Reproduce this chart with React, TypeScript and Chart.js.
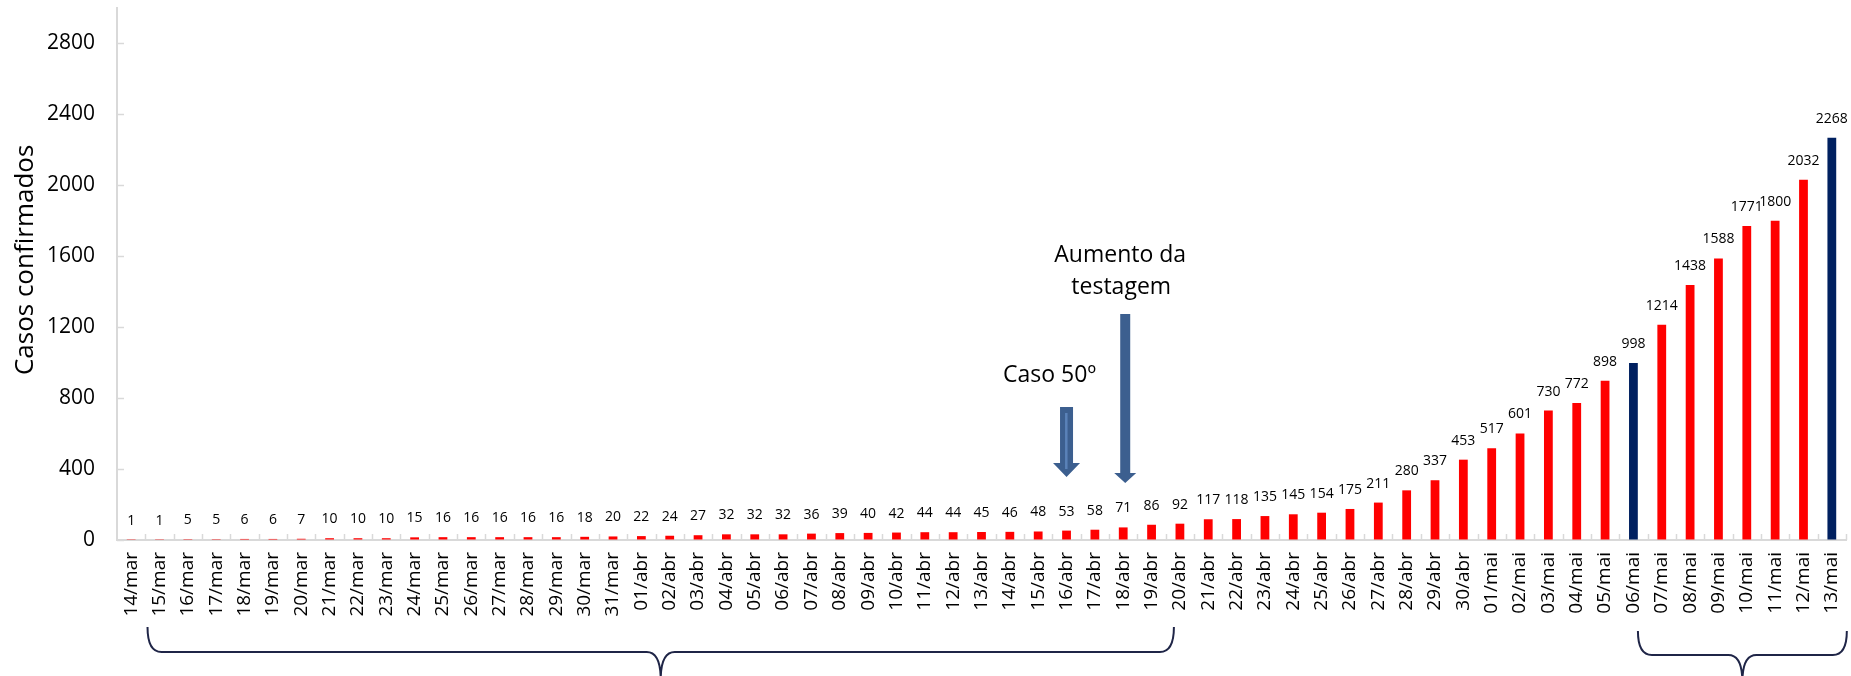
import { useEffect, useRef } from "react";
import { Chart, registerables } from "chart.js";

Chart.register(...registerables);

const FONT = "'Open Sans', sans-serif";

const categories = [
  "14/mar", "15/mar", "16/mar", "17/mar", "18/mar", "19/mar", "20/mar", "21/mar", "22/mar", "23/mar",
  "24/mar", "25/mar", "26/mar", "27/mar", "28/mar", "29/mar", "30/mar", "31/mar",
  "01/abr", "02/abr", "03/abr", "04/abr", "05/abr", "06/abr", "07/abr", "08/abr", "09/abr", "10/abr",
  "11/abr", "12/abr", "13/abr", "14/abr", "15/abr", "16/abr", "17/abr", "18/abr", "19/abr", "20/abr",
  "21/abr", "22/abr", "23/abr", "24/abr", "25/abr", "26/abr", "27/abr", "28/abr", "29/abr", "30/abr",
  "01/mai", "02/mai", "03/mai", "04/mai", "05/mai", "06/mai", "07/mai", "08/mai", "09/mai", "10/mai",
  "11/mai", "12/mai", "13/mai",
];

const cases = [
  1, 1, 5, 5, 6, 6, 7, 10, 10, 10,
  15, 16, 16, 16, 16, 16, 18, 20,
  22, 24, 27, 32, 32, 32, 36, 39, 40, 42,
  44, 44, 45, 46, 48, 53, 58, 71, 86, 92,
  117, 118, 135, 145, 154, 175, 211, 280, 337, 453,
  517, 601, 730, 772, 898, 998, 1214, 1438, 1588, 1771,
  1800, 2032, 2268,
];

const highlightedDates = ["06/mai", "13/mai"];
const yTickValues = [0, 400, 800, 1200, 1600, 2000, 2400, 2800];
const yMax = 3000;
const yTitle = "Casos confirmados";

// arrows: anchored on a category, vertical extent in data values
const arrowCategories = ["16/abr", "18/abr"];
const arrowTopValues = [750, 1275];
const arrowHeadValues = [434, 378];
const arrowTipValues = [355, 321];

// annotation texts
const noteTexts = ["Caso 50º", "Aumento da", "testagem"];
const noteCategories = ["16/abr", "18/abr", "18/abr"];
const noteValues = [890, 1568, 1387];

// braces (from category to category)
const braceStarts = ["15/mar", "06/mai"];
const braceEnds = ["20/abr", "13/mai"];

const RED = "#FF0000";
const NAVY = "#002060";
const AXIS = "#D9D9D9";
const ARROW = "#3C5F8F";
const BRACE = "#1F2547";

function drawArrow(ctx: CanvasRenderingContext2D, cx: number, top: number, head: number, tip: number, shaftW: number, headW: number) {
  ctx.beginPath();
  ctx.moveTo(cx - shaftW / 2, top);
  ctx.lineTo(cx + shaftW / 2, top);
  ctx.lineTo(cx + shaftW / 2, head);
  ctx.lineTo(cx + headW / 2, head);
  ctx.lineTo(cx, tip);
  ctx.lineTo(cx - headW / 2, head);
  ctx.lineTo(cx - shaftW / 2, head);
  ctx.closePath();
  ctx.fill();
}

function drawBrace(ctx: CanvasRenderingContext2D, x1: number, x2: number, yTop: number, yMid: number, yCusp: number) {
  const xc = (x1 + x2) / 2;
  const r = 14;
  ctx.beginPath();
  ctx.moveTo(x1, yTop);
  ctx.quadraticCurveTo(x1, yMid, x1 + r, yMid);
  ctx.lineTo(xc - r, yMid);
  ctx.quadraticCurveTo(xc, yMid, xc, yCusp);
  ctx.quadraticCurveTo(xc, yMid, xc + r, yMid);
  ctx.lineTo(x2 - r, yMid);
  ctx.quadraticCurveTo(x2, yMid, x2, yTop);
  ctx.stroke();
}

const decorPlugin = {
  id: "decor",
  afterDatasetsDraw(chart: any) {
    const ctx: CanvasRenderingContext2D = chart.ctx;
    const xs = chart.scales.x;
    const ys = chart.scales.y;
    const meta = chart.getDatasetMeta(0);
    const n = categories.length;
    const catW = (xs.right - xs.left) / n;
    const cx = (c: string) => xs.getPixelForValue(categories.indexOf(c));

    ctx.save();
    // inside tick marks
    ctx.strokeStyle = AXIS;
    ctx.lineWidth = 1.5;
    ctx.beginPath();
    for (let k = 1; k <= n; k++) {
      const px = Math.round(xs.left + k * catW) + 0.5;
      ctx.moveTo(px, ys.bottom);
      ctx.lineTo(px, ys.bottom - 6);
    }
    yTickValues.forEach((v) => {
      const py = Math.round(ys.getPixelForValue(v)) + 0.5;
      ctx.moveTo(xs.left, py);
      ctx.lineTo(xs.left + 7, py);
    });
    ctx.stroke();

    // y axis title
    ctx.fillStyle = "#000";
    ctx.save();
    ctx.translate(33, ys.getPixelForValue(930));
    ctx.rotate(-Math.PI / 2);
    ctx.font = `26px ${FONT}`;
    ctx.textAlign = "left";
    ctx.textBaseline = "alphabetic";
    ctx.fillText(yTitle, 0, 0);
    ctx.restore();

    // data labels
    ctx.font = `14px ${FONT}`;
    ctx.textAlign = "center";
    ctx.textBaseline = "alphabetic";
    meta.data.forEach((bar: any, i: number) => {
      ctx.fillText(String(cases[i]), bar.x, bar.y - 15);
    });

    // arrows
    ctx.fillStyle = ARROW;
    drawArrow(ctx, cx(arrowCategories[0]), ys.getPixelForValue(arrowTopValues[0]), ys.getPixelForValue(arrowHeadValues[0]), ys.getPixelForValue(arrowTipValues[0]), 13, 27);
    drawArrow(ctx, cx(arrowCategories[1]) + 2, ys.getPixelForValue(arrowTopValues[1]), ys.getPixelForValue(arrowHeadValues[1]), ys.getPixelForValue(arrowTipValues[1]), 10, 22);
    ctx.fillStyle = "#5A82B8";
    const a0 = cx(arrowCategories[0]);
    ctx.fillRect(a0 - 1.5, ys.getPixelForValue(arrowTopValues[0]) + 6, 2.5, ys.getPixelForValue(arrowHeadValues[0]) - ys.getPixelForValue(arrowTopValues[0]));

    // notes
    ctx.fillStyle = "#000";
    ctx.font = `23px ${FONT}`;
    const noteDx = [-17, -3, -2];
    noteTexts.forEach((t, i) => {
      ctx.fillText(t, cx(noteCategories[i]) + noteDx[i], ys.getPixelForValue(noteValues[i]));
    });

    // braces
    ctx.strokeStyle = BRACE;
    ctx.lineWidth = 2;
    const b1 = cx(braceStarts[0]) - 12;
    const b2 = cx(braceEnds[0]) - 6;
    drawBrace(ctx, b1, b2, 627, 652, 680);
    const b3 = cx(braceStarts[1]) + 4.5;
    const b4 = cx(braceEnds[1]) + 15;
    drawBrace(ctx, b3, b4, 631, 655, 682);

    ctx.restore();
  },
};

export default function App() {
  const ref = useRef<HTMLCanvasElement>(null);

  useEffect(() => {
    document.body.style.margin = "0";
    const canvas = ref.current!;
    const colors = categories.map((c) => (highlightedDates.includes(c) ? NAVY : RED));
    const chart = new Chart(canvas, {
      type: "bar",
      data: {
        labels: categories,
        datasets: [
          {
            data: cases,
            backgroundColor: colors,
            borderWidth: 0,
            barPercentage: 0.31,
            categoryPercentage: 1,
          },
        ],
      },
      options: {
        animation: false,
        responsive: false,
        devicePixelRatio: 1,
        layout: { padding: { top: 8, right: 5, left: 0, bottom: 0 } },
        plugins: {
          legend: { display: false },
          tooltip: { enabled: false },
        },
        scales: {
          x: {
            offset: true,
            grid: { display: true, drawOnChartArea: false, drawTicks: false },
            border: { display: true, color: AXIS, width: 2 },
            ticks: {
              autoSkip: false,
              minRotation: 90,
              maxRotation: 90,
              padding: 12,
              color: "#000",
              font: { family: FONT, size: 19 },
            },
            afterFit: (s: any) => {
              s.height = 136;
              s.paddingLeft = 0;
              s.paddingRight = 0;
            },
          },
          y: {
            min: 0,
            max: yMax,
            grid: { display: true, drawOnChartArea: false, drawTicks: false },
            border: { display: true, color: AXIS, width: 2 },
            ticks: {
              stepSize: 400,
              padding: 22,
              color: "#000",
              font: { family: FONT, size: 21 },
              callback: (v: any) => String(v),
            },
            afterBuildTicks: (s: any) => {
              s.ticks = yTickValues.map((v) => ({ value: v }));
            },
            afterFit: (s: any) => {
              s.width = 117;
              s.paddingTop = 0;
              s.paddingBottom = 0;
            },
          },
        },
      },
      plugins: [decorPlugin],
    });
    return () => chart.destroy();
  }, []);

  return (
    <div style={{ width: 1851, height: 676, overflow: "hidden" }}>
      <canvas ref={ref} width={1851} height={676} style={{ display: "block", width: 1851, height: 676 }} />
    </div>
  );
}
